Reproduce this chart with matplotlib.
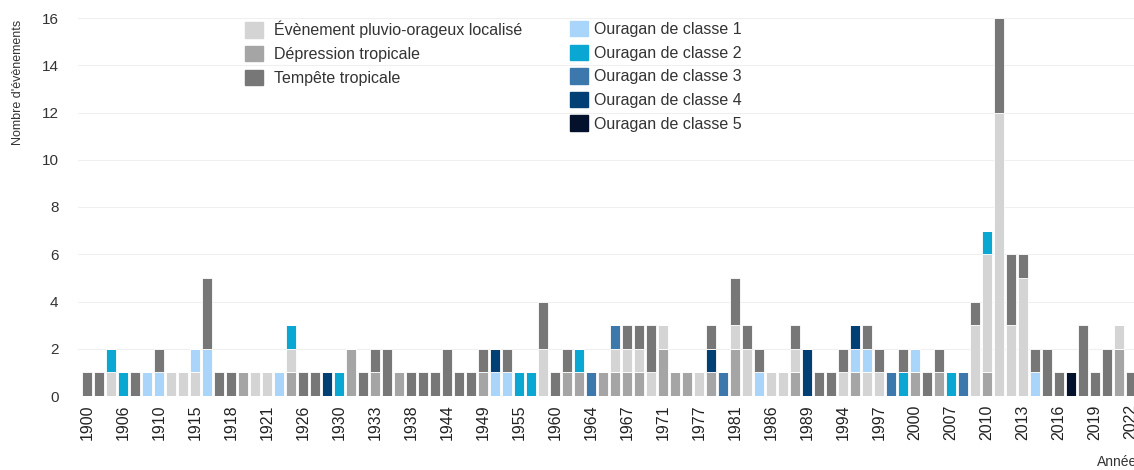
import numpy as np
import matplotlib
matplotlib.use("Agg")
import matplotlib.pyplot as plt
from matplotlib.patches import Patch

plt.rcParams['font.family'] = ['Liberation Sans', 'DejaVu Sans']

years = [1900, 1902, 1904, 1906, 1908, 1909, 1910, 1912, 1913, 1915,
         1916, 1917, 1918, 1919, 1920, 1921, 1922, 1924, 1926, 1927,
         1928, 1930, 1931, 1932, 1933, 1935, 1936, 1938, 1940, 1942,
         1944, 1945, 1947, 1949, 1950, 1952, 1955, 1956, 1958, 1960,
         1961, 1963, 1964, 1965, 1966, 1967, 1968, 1970, 1971, 1973,
         1975, 1977, 1978, 1979, 1981, 1983, 1984, 1986, 1987, 1988,
         1989, 1990, 1992, 1994, 1995, 1996, 1997, 1998, 1999, 2000,
         2002, 2004, 2007, 2008, 2009, 2010, 2011, 2012, 2013, 2014,
         2015, 2016, 2017, 2018, 2019, 2020, 2021, 2022]

depression = [0, 0, 0, 0, 0, 0, 0, 0, 0, 0,
              0, 0, 0, 1, 0, 0, 0, 1, 0, 0,
              0, 0, 2, 0, 1, 0, 1, 0, 0, 0,
              0, 0, 0, 1, 0, 0, 0, 0, 0, 0,
              1, 1, 0, 1, 1, 1, 1, 0, 2, 1,
              1, 0, 1, 0, 2, 0, 0, 0, 0, 1,
              0, 0, 0, 0, 1, 0, 0, 0, 0, 1,
              0, 1, 0, 0, 0, 1, 0, 0, 0, 0,
              0, 0, 0, 0, 0, 0, 2, 0]
evenement = [0, 0, 1, 0, 0, 0, 0, 1, 1, 1,
             0, 0, 0, 0, 1, 1, 0, 1, 0, 0,
             0, 0, 0, 0, 0, 0, 0, 0, 0, 0,
             0, 0, 0, 0, 0, 0, 0, 0, 2, 0,
             0, 0, 0, 0, 1, 1, 1, 1, 1, 0,
             0, 1, 0, 0, 1, 2, 0, 1, 1, 1,
             0, 0, 0, 1, 0, 1, 1, 0, 0, 0,
             0, 0, 0, 0, 3, 5, 12, 3, 5, 0,
             0, 0, 0, 0, 0, 0, 1, 0]
classe1 = [0, 0, 0, 0, 0, 1, 1, 0, 0, 1,
           2, 0, 0, 0, 0, 0, 1, 0, 0, 0,
           0, 0, 0, 0, 0, 0, 0, 0, 0, 0,
           0, 0, 0, 0, 1, 1, 0, 0, 0, 0,
           0, 0, 0, 0, 0, 0, 0, 0, 0, 0,
           0, 0, 0, 0, 0, 0, 1, 0, 0, 0,
           0, 0, 0, 0, 1, 1, 0, 0, 0, 1,
           0, 0, 0, 0, 0, 0, 0, 0, 0, 1,
           0, 0, 0, 0, 0, 0, 0, 0]
classe2 = [0, 0, 1, 1, 0, 0, 0, 0, 0, 0,
           0, 0, 0, 0, 0, 0, 0, 1, 0, 0,
           0, 1, 0, 0, 0, 0, 0, 0, 0, 0,
           0, 0, 0, 0, 0, 0, 1, 1, 0, 0,
           0, 1, 0, 0, 0, 0, 0, 0, 0, 0,
           0, 0, 0, 0, 0, 0, 0, 0, 0, 0,
           0, 0, 0, 0, 0, 0, 0, 0, 1, 0,
           0, 0, 1, 0, 0, 1, 0, 0, 0, 0,
           0, 0, 0, 0, 0, 0, 0, 0]
classe3 = [0, 0, 0, 0, 0, 0, 0, 0, 0, 0,
           0, 0, 0, 0, 0, 0, 0, 0, 0, 0,
           0, 0, 0, 0, 0, 0, 0, 0, 0, 0,
           0, 0, 0, 0, 0, 0, 0, 0, 0, 0,
           0, 0, 1, 0, 1, 0, 0, 0, 0, 0,
           0, 0, 0, 1, 0, 0, 0, 0, 0, 0,
           0, 0, 0, 0, 0, 0, 0, 1, 0, 0,
           0, 0, 0, 1, 0, 0, 0, 0, 0, 0,
           0, 0, 0, 0, 0, 0, 0, 0]
classe4 = [0, 0, 0, 0, 0, 0, 0, 0, 0, 0,
           0, 0, 0, 0, 0, 0, 0, 0, 0, 0,
           1, 0, 0, 0, 0, 0, 0, 0, 0, 0,
           0, 0, 0, 0, 1, 0, 0, 0, 0, 0,
           0, 0, 0, 0, 0, 0, 0, 0, 0, 0,
           0, 0, 1, 0, 0, 0, 0, 0, 0, 0,
           2, 0, 0, 0, 1, 0, 0, 0, 0, 0,
           0, 0, 0, 0, 0, 0, 0, 0, 0, 0,
           0, 0, 0, 0, 0, 0, 0, 0]
classe5 = [0, 0, 0, 0, 0, 0, 0, 0, 0, 0,
           0, 0, 0, 0, 0, 0, 0, 0, 0, 0,
           0, 0, 0, 0, 0, 0, 0, 0, 0, 0,
           0, 0, 0, 0, 0, 0, 0, 0, 0, 0,
           0, 0, 0, 0, 0, 0, 0, 0, 0, 0,
           0, 0, 0, 0, 0, 0, 0, 0, 0, 0,
           0, 0, 0, 0, 0, 0, 0, 0, 0, 0,
           0, 0, 0, 0, 0, 0, 0, 0, 0, 0,
           0, 0, 1, 0, 0, 0, 0, 0]
tempete = [1, 1, 0, 0, 1, 0, 1, 0, 0, 0,
           3, 1, 1, 0, 0, 0, 0, 0, 1, 1,
           0, 0, 0, 1, 1, 2, 0, 1, 1, 1,
           2, 1, 1, 1, 0, 1, 0, 0, 2, 1,
           1, 0, 0, 0, 0, 1, 1, 2, 0, 0,
           0, 0, 1, 0, 2, 1, 1, 0, 0, 1,
           0, 1, 1, 1, 0, 1, 1, 0, 1, 0,
           1, 1, 0, 0, 1, 0, 4, 3, 1, 1,
           2, 1, 0, 3, 1, 2, 0, 1]

labels = ["Évènement pluvio-orageux localisé", "Dépression tropicale", "Tempête tropicale",
          "Ouragan de classe 1", "Ouragan de classe 2", "Ouragan de classe 3",
          "Ouragan de classe 4", "Ouragan de classe 5"]
colors = {"E": "#d4d4d4", "D": "#a5a5a5", "T": "#777777",
          "C1": "#a9d5fa", "C2": "#0aa7d2", "C3": "#3c78ab",
          "C4": "#013f74", "C5": "#03112c"}

# stacking order seen in the picture: dépression, évènement, ouragans, tempête on top
stack = [("D", depression), ("E", evenement), ("C1", classe1), ("C2", classe2),
         ("C3", classe3), ("C4", classe4), ("C5", classe5), ("T", tempete)]

fig = plt.figure(figsize=(11.34, 4.70), dpi=100)
W, H = 1134, 470
x = np.arange(len(years))
xlo, xhi = -0.75, 92.75
left_px = 78
right_px = left_px + 12 * (xhi - xlo)
ax = fig.add_axes([left_px / W, 74 / H, (right_px - left_px) / W, 378 / H])

bottom = np.zeros(len(years))
for key, vals in stack:
    vals = np.array(vals, dtype=float)
    ax.bar(x, vals, bottom=bottom, width=0.9, color=colors[key],
           edgecolor="white", linewidth=0.6)
    bottom += vals

ax.set_xlim(xlo, xhi)
ax.set_ylim(0, 16)
ax.set_yticks(range(0, 17, 2))
ax.set_xticks(x[::3])
ax.set_xticklabels([str(y) for y in years[::3]], rotation=90, fontsize=11.5, color="#222222")
ax.tick_params(axis="y", labelsize=11, colors="#333333", length=0, pad=14)
ax.tick_params(axis="x", length=0, pad=6)
ax.grid(axis="y", color="#efefef", linewidth=0.8)
ax.set_axisbelow(True)
for s in ax.spines.values():
    s.set_visible(False)

fig.text(18 / W, 1 - 20 / H, "Nombre d'évènements", rotation=90, ha="center", va="top",
         fontsize=9, color="#333333")
fig.text(1097 / W, 1 - 462 / H, "Années", ha="left", va="center", fontsize=10, color="#333333")

h1 = [Patch(color=colors[k]) for k in ["E", "D", "T"]]
h2 = [Patch(color=colors[k]) for k in ["C1", "C2", "C3", "C4", "C5"]]
common = dict(frameon=False, fontsize=11.5, handlelength=1.1, handleheight=1.1,
              labelspacing=0.47, borderpad=0, borderaxespad=0,
              loc="upper left", labelcolor="#333333")
fig.legend(h1, labels[:3], bbox_to_anchor=(245 / W, 1 - 21 / H), handletextpad=0.7, **common)
fig.legend(h2, labels[3:], bbox_to_anchor=(570 / W, 1 - 21 / H), handletextpad=0.4, **common)

fig.savefig("out.png", dpi=100)
